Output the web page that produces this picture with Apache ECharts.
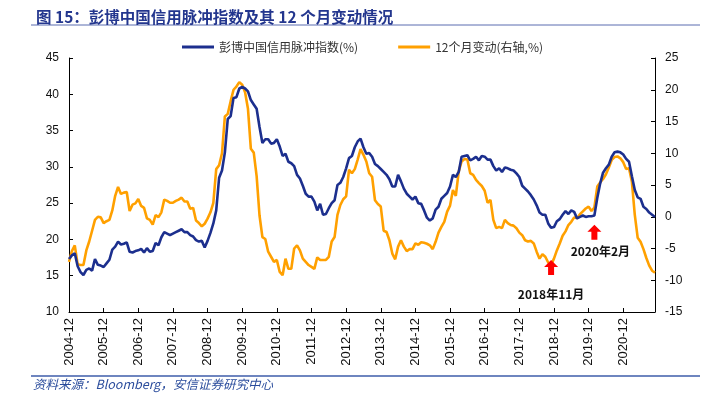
<!DOCTYPE html>
<html>
<head>
<meta charset="utf-8">
<script src="https://cdn.jsdelivr.net/npm/echarts@6/dist/echarts.min.js"></script>
<style>
html,body{margin:0;padding:0;background:#fff;}
#chart{width:703px;height:398px;}
</style>
</head>
<body>
<div id="chart"></div>
<script>
// ---- categories: monthly, 2004-12 .. 2021-11 ----
const startYear = 2004, startMonth = 12, monthCount = 204;
const months = [];
for (let k = 0; k < monthCount; k++) {
  const m = (startMonth - 1) + k;
  const y = startYear + Math.floor(m / 12);
  const mm = (m % 12) + 1;
  months.push(y + '-' + String(mm).padStart(2, '0'));
}

// ---- series: Bloomberg China credit impulse index (%) ----
const impulse = [
  17.3, 17.8, 18.1, 16.3, 15.5, 15.1, 15.8, 16.0, 15.7, 17.3, 16.5, 16.4,
  16.2, 16.7, 17.2, 18.6, 19.0, 19.7, 19.3, 19.4, 19.6, 18.3, 18.2, 18.4,
  18.5, 18.7, 18.2, 18.8, 18.3, 18.4, 19.5, 19.2, 20.3, 21.0, 20.8, 20.6,
  20.8, 21.0, 21.2, 21.4, 21.0, 21.0, 20.6, 20.4, 19.9, 19.7, 19.8, 18.9,
  19.8, 20.9, 22.2, 24.0, 28.5, 29.5, 32.0, 36.6, 37.0, 39.5, 39.6, 40.8,
  41.0, 40.8, 40.4, 39.2, 38.6, 38.0, 35.5, 33.3, 33.8, 33.8, 33.2, 33.3,
  33.8, 32.8, 31.5, 31.8, 30.7, 30.5, 30.1, 28.9, 28.4, 27.4, 26.3, 25.9,
  25.9, 25.2, 24.0, 24.9, 23.4, 23.5, 24.3, 25.0, 25.4, 27.5, 27.8, 28.6,
  29.8, 31.2, 31.5, 32.7, 33.5, 33.9, 32.7, 31.8, 31.9, 31.4, 30.4, 30.1,
  29.7, 29.3, 28.9, 28.3, 27.3, 27.3, 28.9, 28.0, 27.0, 26.3, 25.9, 25.5,
  25.9, 25.0, 24.9, 24.0, 23.0, 22.6, 22.9, 24.1, 24.5, 25.6, 26.0, 26.4,
  27.3, 28.9, 28.6, 29.3, 31.4, 31.5, 31.6, 30.9, 31.1, 31.4, 30.9, 31.5,
  31.4, 31.0, 31.0, 30.1, 29.5, 29.8, 29.3, 29.9, 29.8, 29.6, 29.5, 29.1,
  28.6, 27.4, 27.0, 26.6, 26.1, 25.5, 24.7, 23.7, 23.4, 23.4, 22.2, 21.6,
  21.7, 22.5, 22.8, 23.4, 23.9, 23.5, 24.0, 23.8, 22.9, 23.1, 23.3, 23.1,
  23.2, 23.2, 23.3, 25.7, 27.7, 29.2, 29.8, 30.3, 31.4, 32.0, 32.1, 32.0,
  31.7, 31.1, 30.7, 28.7, 26.8, 25.8, 25.6, 24.5, 24.2, 23.7, 23.4, 23.1
];

// ---- series: 12-month change (right axis, %) ----
const change12m = [
  -7.1, -5.4, -4.5, -7.5, -7.6, -7.6, -5.3, -3.9, -2.2, -0.5, 0.0, -0.1,
  -1.0, -0.7, -0.5, 1.0, 3.3, 4.7, 3.6, 3.8, 3.9, 0.9, 1.9, 2.1,
  2.8, 1.7, 1.4, -0.25, -0.5, -1.25, 0.25, -0.05, 0.7, 2.7, 2.5, 2.2,
  2.2, 2.5, 2.7, 3.0, 2.4, 2.4, 1.25, 1.4, -0.6, -1.0, -1.5, -1.1,
  -0.3, 0.7, 2.2, 7.5, 8.1, 10.0, 15.8, 16.2, 18.2, 20.0, 20.5, 21.2,
  20.8, 19.6, 17.0, 10.7, 10.1, 6.4, 0.2, -3.2, -3.5, -5.5, -6.3, -7.1,
  -6.8, -8.7, -9.2, -6.6, -8.2, -8.2, -5.0, -4.5, -5.3, -6.6, -7.1, -7.6,
  -7.9, -8.2, -6.4, -6.8, -6.8, -6.8, -6.3, -3.9, -3.2, 0.3, 1.85, 2.75,
  3.2, 7.4, 6.85, 7.5, 9.0, 10.65, 9.75, 8.7, 6.85, 6.3, 2.6, 2.0,
  1.6, -2.2, -2.4, -3.7, -5.8, -6.7, -4.7, -3.7, -4.7, -5.4, -5.1, -5.1,
  -4.2, -4.4, -4.0, -4.1, -4.25, -4.5, -5.1, -3.95, -2.5, -1.6, -0.8, 0.8,
  1.75, 4.2, 3.3, 7.1, 8.7, 9.1, 9.0, 6.85, 6.6, 5.8, 5.3, 4.85,
  4.1, 2.2, 2.65, -0.5, -1.8, -1.6, -1.8, -0.5, -1.0, -1.3, -1.4, -1.8,
  -2.5, -2.9, -3.7, -3.9, -3.8, -4.2, -5.5, -6.6, -5.9, -6.3, -7.2, -7.6,
  -6.6, -5.3, -4.2, -3.0, -2.3, -1.3, -0.8, -0.1, -0.25, 0.4, 0.85, 1.3,
  1.6, 0.9, 1.45, 4.75, 5.4, 5.95, 6.7, 7.75, 8.95, 9.4, 9.5, 9.2,
  8.6, 7.5, 7.65, 5.5, 0.3, -3.3, -3.95, -5.1, -6.5, -7.7, -8.5, -8.8
];

// ---- axis ticks ----
const leftTicks = { min: 10, max: 45, interval: 5 };
const rightTicks = { min: -15, max: 25, interval: 5 };

// ---- labels / annotations ----
const titleText = '图 15：彭博中国信用脉冲指数及其 12 个月变动情况';
const seriesNames = ['彭博中国信用脉冲指数(%)', '12个月变动(右轴,%)'];
const sourceText = '资料来源：Bloomberg，安信证券研究中心';
const noteA = { month: '2018-11', value: -8.0, text: '2018年11月' };   // on right axis
const noteB = { month: '2020-02', value: 21.0, text: '2020年2月' };    // on left axis

const FONT = '"Liberation Sans", "Noto Sans CJK SC", sans-serif';
const CJK = '"Noto Sans CJK SC", "Liberation Sans", sans-serif';
const arrowPath = 'path://M7,0 L14,7 L10,7 L10,15 L4,15 L4,7 L0,7 Z';

const chart = echarts.init(document.getElementById('chart'), null, { renderer: 'canvas' });
const yearTick = (idx) => idx % 12 === 0;

chart.setOption({
  animation: false,
  backgroundColor: '#ffffff',
  title: {
    text: titleText,
    left: 31, top: 4,
    textStyle: { fontFamily: CJK, fontSize: 15.5, fontWeight: 'bold', color: '#23368E' }
  },
  legend: {
    data: seriesNames,
    left: 177, top: 36,
    icon: 'rect',
    itemWidth: 32, itemHeight: 3,
    itemGap: 40,
    textStyle: { fontFamily: CJK, fontSize: 12, color: '#333' }
  },
  grid: { left: 69, right: 48, top: 58, bottom: 86, containLabel: false },
  xAxis: {
    type: 'category',
    data: months,
    boundaryGap: false,
    axisLine: { onZero: false, lineStyle: { color: '#000', width: 1 } },
    axisTick: { inside: true, length: 4, interval: (i) => yearTick(i), lineStyle: { color: '#000' } },
    axisLabel: {
      interval: (i) => yearTick(i),
      rotate: 90, margin: 6,
      fontFamily: FONT, fontSize: 13, color: '#111'
    },
    splitLine: { show: false }
  },
  yAxis: [
    {
      type: 'value', position: 'left',
      min: leftTicks.min, max: leftTicks.max, interval: leftTicks.interval,
      axisLine: { show: true, onZero: false, lineStyle: { color: '#000', width: 1 } },
      axisTick: { show: true, inside: true, length: 4, lineStyle: { color: '#000' } },
      axisLabel: { margin: 10, fontFamily: FONT, fontSize: 12, color: '#111' },
      splitLine: { show: false }
    },
    {
      type: 'value', position: 'right',
      min: rightTicks.min, max: rightTicks.max, interval: rightTicks.interval,
      axisLine: { show: true, onZero: false, lineStyle: { color: '#000', width: 1 } },
      axisTick: { show: true, inside: true, length: 4, lineStyle: { color: '#000' } },
      axisLabel: { margin: 10, fontFamily: FONT, fontSize: 12, color: '#111' },
      splitLine: { show: false }
    }
  ],
  series: [
    {
      name: seriesNames[0], type: 'line', yAxisIndex: 0,
      data: impulse, symbol: 'none', showSymbol: false,
      lineStyle: { color: '#1C2F8E', width: 2.6 },
      itemStyle: { color: '#1C2F8E' },
      z: 3,
      markPoint: {
        symbol: arrowPath, symbolSize: [14, 15],
        itemStyle: { color: '#FF0000' },
        label: { show: true, position: 'bottom', distance: 6, offset: [6, 0],
                 formatter: noteB.text, fontFamily: CJK, fontSize: 12, fontWeight: 'bold', color: '#111' },
        data: [{ coord: [noteB.month, noteB.value] }]
      }
    },
    {
      name: seriesNames[1], type: 'line', yAxisIndex: 1,
      data: change12m, symbol: 'none', showSymbol: false,
      lineStyle: { color: '#FFA000', width: 2.6 },
      itemStyle: { color: '#FFA000' },
      z: 2,
      markPoint: {
        symbol: arrowPath, symbolSize: [14, 15],
        itemStyle: { color: '#FF0000' },
        label: { show: true, position: 'bottom', distance: 13,
                 formatter: noteA.text, fontFamily: CJK, fontSize: 12, fontWeight: 'bold', color: '#111' },
        data: [{ coord: [noteA.month, noteA.value] }]
      }
    }
  ],
  graphic: [
    { type: 'line', shape: { x1: 31, y1: 25, x2: 700, y2: 25 }, style: { stroke: '#5A6DB0', lineWidth: 1 } },
    { type: 'line', shape: { x1: 31, y1: 376, x2: 700, y2: 376 }, style: { stroke: '#3E5CAA', lineWidth: 1.5 } },
    { type: 'text', left: 33, top: 378,
      style: { text: sourceText, font: 'italic 12.5px "Noto Sans CJK SC", "Liberation Sans", sans-serif', fill: '#2A4C9C' } }
  ]
});
</script>
</body>
</html>
